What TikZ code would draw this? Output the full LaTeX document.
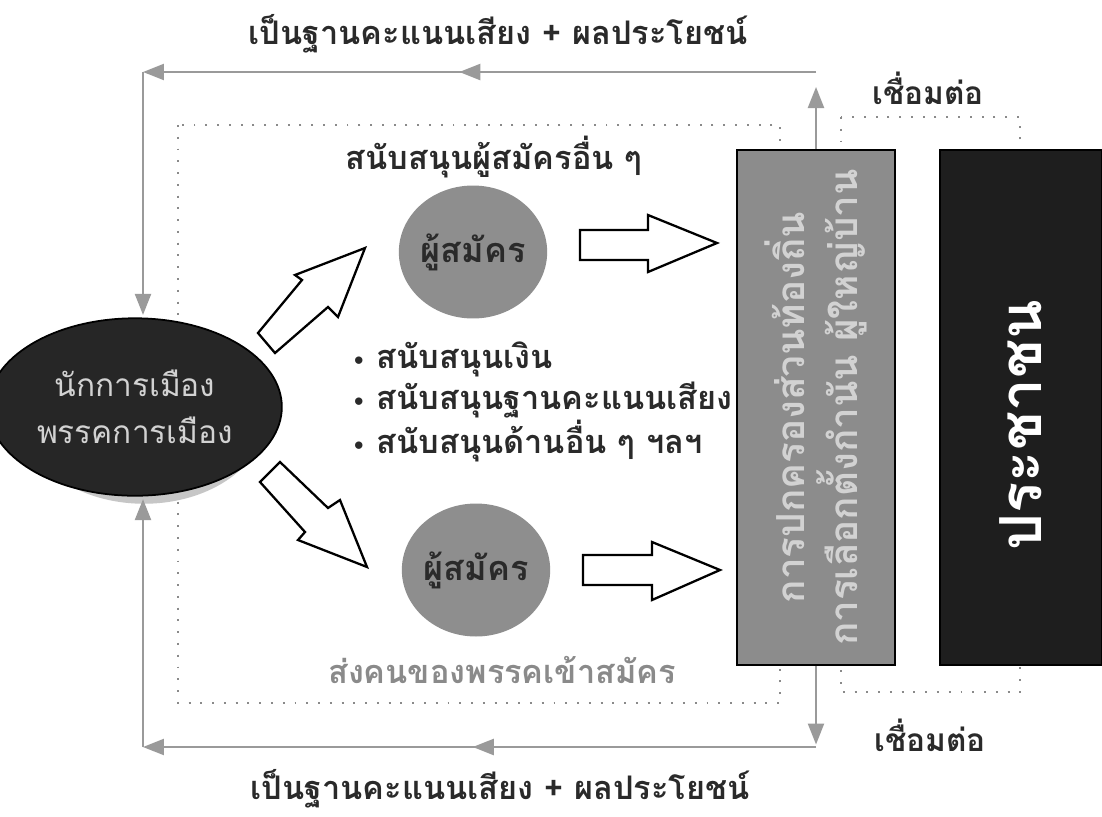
\documentclass[tikz,border=0pt]{standalone}
\usepackage{fontspec}
\newfontfamily\thai[Script=Thai]{Loma}
\newfontfamily\dejavu{DejaVu Sans}
\usetikzlibrary{arrows.meta,decorations.markings,shapes.geometric}
\definecolor{lineg}{HTML}{9A9A9A}
\definecolor{dotg}{HTML}{8A8A8A}
\definecolor{boxg}{HTML}{8C8C8C}
\definecolor{circg}{HTML}{8E8E8E}
\definecolor{darkf}{HTML}{262626}
\definecolor{darkbox}{HTML}{1E1E1E}
\definecolor{ltext}{HTML}{D2D2D2}
\definecolor{txt}{HTML}{2A2A2A}
\definecolor{gtxt}{HTML}{8A8A8A}
\begin{document}
\begin{tikzpicture}[x=0.02cm,y=-0.02cm,
  tri/.tip={Triangle[length=4.2mm,width=3.2mm]},
  conn/.style={draw=lineg, line width=1.3pt},
  midarrow/.style={postaction={decorate}, decoration={markings, mark=at position #1 with {\arrow{tri}}}},
  dots/.style={draw=dotg, line width=1.1pt, dash pattern=on 1.1pt off 5.6pt},
  blockarr/.style={draw=black, fill=white, line width=1.3pt, line join=miter},
  lbl/.style={inner sep=1pt, font=\thai\bfseries\fontsize{18.5}{23}\selectfont, text=txt},
  circ/.style={ellipse, fill=circg, minimum width=2.96cm, minimum height=2.66cm, inner sep=0pt, text=txt, font=\thai\bfseries\fontsize{19.5}{22}\selectfont}]
\useasboundingbox (0,0) rectangle (1102,816);
\fill[white] (0,0) rectangle (1102,816);

% dotted frames
\draw[dots] (178,125) rectangle (780,703);
\draw[dots] (841,117) rectangle (1020,692);

% politician ellipse with shadow
\node[ellipse, fill=gray!45, minimum width=4.9cm, minimum height=3.55cm] (ellsh) at (144,415) {};
\node[ellipse, draw=black, line width=1pt, fill=darkf, minimum width=4.9cm, minimum height=3.55cm,
  text=ltext, font=\thai\fontsize{18}{27}\selectfont, align=center] (ell) at (135,407) {นักการเมือง\\พรรคการเมือง};

% candidates
\node[circ] (c1) at (473,252) {ผู้สมัคร};
\node[circ] (c2) at (476,570) {ผู้สมัคร};

% boxes
\node[draw=black, line width=1pt, fill=boxg, minimum width=3.16cm, minimum height=10.3cm, inner sep=0pt] (gbox) at (816,407.5) {};
\node[rotate=90, align=center, text=ltext, font=\thai\bfseries\fontsize{22}{30}\selectfont] (gtext) at (gbox.center) {การปกครองส่วนท้องถิ่น\\การเลือกตั้งกำนัน ผู้ใหญ่บ้าน};
\node[draw=black, line width=1pt, fill=darkbox, minimum width=3.24cm, minimum height=10.3cm, inner sep=0pt] (dbox) at (1021,407.5) {};
\node[rotate=90, text=white, font=\thai\bfseries\fontsize{33}{38}\selectfont] (dtext) at (1021,425) {ประชาชน};

% block arrows
\draw[blockarr] (258,333) -- (302,280) -- (295,275) -- (365,248) -- (338,317) -- (328,307) -- (275,353) -- cycle;
\draw[blockarr] (280,462) -- (328,508) -- (340,500) -- (367,567) -- (298,540) -- (305,532) -- (260,482) -- cycle;
\draw[blockarr] (580,230) -- (648,230) -- (648,215) -- (717,243) -- (648,272) -- (648,260) -- (580,260) -- cycle;
\draw[blockarr] (583,555) -- (652,555) -- (652,542) -- (720,570) -- (652,600) -- (652,585) -- (583,585) -- cycle;

% feedback connectors
\coordinate (tr) at (816,72);
\coordinate (tl) at (143,72);
\coordinate (br) at (816,747);
\coordinate (bl) at (143,747);
\draw[conn, -{tri}, shorten >=0.3cm] (gbox.north) -- (tr);
\draw[conn, midarrow=0.53, -{tri}] (tr) -- (tl);
\draw[conn, -{tri}, shorten >=0.05cm] (tl) -- (tl |- ell.north);
\draw[conn, -{tri}, shorten >=0.05cm] (gbox.south) -- (br);
\draw[conn, midarrow=0.51, -{tri}] (br) -- (bl);
\draw[conn, -{tri}, shorten >=0.05cm] (bl) -- (tl |- ell.south);

% labels
\node[lbl] (ttop) at (498,34) {เป็นฐานคะแนนเสียง + ผลประโยชน์};
\node[lbl, inner sep=0pt] (tbot) at (500,789) {เป็นฐานคะแนนเสียง + ผลประโยชน์};
\node[lbl, font=\thai\bfseries\fontsize{18}{22}\selectfont] (jtop) at (928,88) {เชื่อมต่อ};
\node[lbl, font=\thai\bfseries\fontsize{18}{22}\selectfont] (jbot) at (930,735) {เชื่อมต่อ};
\node[lbl] (sup) at (494,157) {สนับสนุนผู้สมัครอื่น ๆ};
\node[lbl, anchor=west, align=left, font=\thai\bfseries\fontsize{18.5}{23.5}\selectfont] (bul) at (350,402)
  {{\dejavu\fontsize{12}{12}\selectfont •}\ สนับสนุนเงิน\\{\dejavu\fontsize{12}{12}\selectfont •}\ สนับสนุนฐานคะแนนเสียง\\{\dejavu\fontsize{12}{12}\selectfont •}\ สนับสนุนด้านอื่น ๆ ฯลฯ};
\node[lbl, text=gtxt] (send) at (502,670) {ส่งคนของพรรคเข้าสมัคร};
\end{tikzpicture}
\end{document}
